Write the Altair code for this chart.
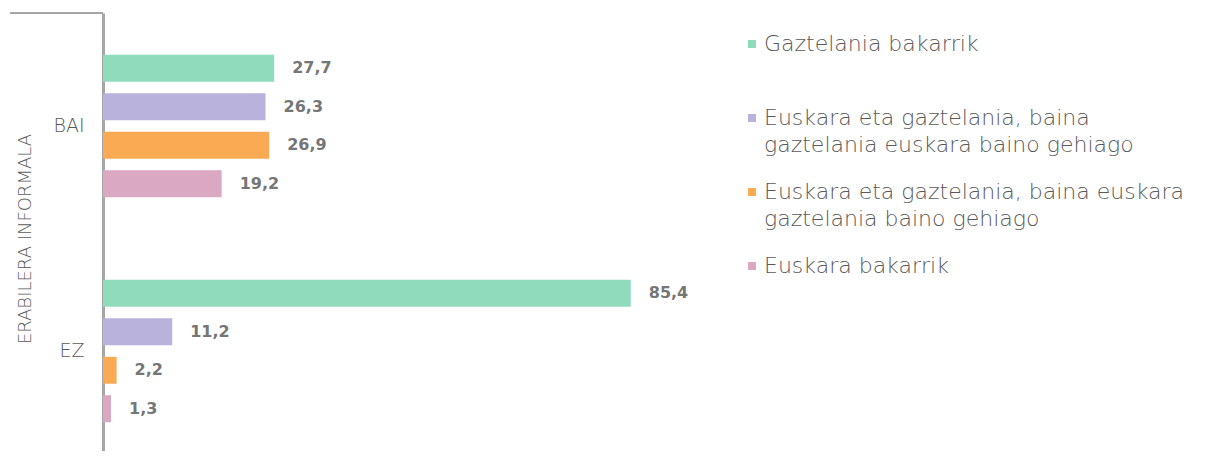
import altair as alt
import pandas as pd

categories = ["BAI", "EZ"]
series = [
    "Gaztelania bakarrik",
    "Euskara eta gaztelania, baina|gaztelania euskara baino gehiago",
    "Euskara eta gaztelania, baina euskara|gaztelania baino gehiago",
    "Euskara bakarrik",
]
bai_values = [27.7, 26.3, 26.9, 19.2]
ez_values = [85.4, 11.2, 2.2, 1.3]
colors = ["#91dbbd", "#b9b2dd", "#f9aa53", "#daa8c0"]

rows = []
for cat, vals in zip(categories, [bai_values, ez_values]):
    for s, v in zip(series, vals):
        rows.append({"cat": cat, "series": s, "value": v})
df = pd.DataFrame(rows)

FONT = "DejaVu Sans"
GREY = "#595959"

y = alt.Y(
    "cat:N",
    sort=categories,
    title="ERABILERA INFORMALA",
    scale=alt.Scale(range=[0, 451], paddingInner=0.316, paddingOuter=0.16),
    axis=alt.Axis(
        domainColor="#a6a6a6", domainWidth=3, ticks=False, labelPadding=19,
        labelFontSize=19, labelColor=GREY, labelFont=FONT, labelFontWeight=300,
        titleFont=FONT, titleFontSize=18, titleFontWeight=300,
        titleColor=GREY, titlePadding=18,
    ),
)
yoff = alt.YOffset("series:N", sort=series,
                   scale=alt.Scale(paddingInner=0.3, paddingOuter=0.15))
x = alt.X("value:Q", scale=alt.Scale(domain=[0, 100]), axis=None)

base = alt.Chart(df)

bars = base.mark_bar().encode(
    y=y, yOffset=yoff, x=x,
    color=alt.Color(
        "series:N", sort=series,
        scale=alt.Scale(domain=series, range=colors),
        legend=alt.Legend(
            orient="none", legendX=638, legendY=20, title=None,
            symbolType="square", symbolSize=64, symbolStrokeWidth=0,
            labelFont=FONT, labelFontSize=22, labelColor=GREY, labelFontWeight=300,
            labelExpr="indexof(datum.label, '|') >= 0 ? split(datum.label, '|') : [datum.label, '\u00a0']",
            labelLimit=600, gridAlign="all", rowPadding=25, labelOffset=1,
        ),
    ),
)

labels = base.transform_calculate(
    label="replace(format(datum.value, '.1f'), '.', ',')"
).mark_text(
    align="left", dx=18, fontWeight="bold", fontSize=16, color="#767676", font=FONT
).encode(y=y, yOffset=yoff, x=x, text="label:N")

corner = alt.Chart(pd.DataFrame({"a": [0]})).mark_rule(
    color="#a6a6a6", strokeWidth=2
).encode(x=alt.value(-93), x2=alt.value(0), y=alt.value(0))

chart = alt.layer(bars, labels, corner).properties(
    width=618, height=438,
    autosize=alt.AutoSizeParams(type="none"),
    padding={"left": 95, "top": 5, "right": 485, "bottom": 0},
).configure(
    style={"guide-label": {"lineHeight": 27}}
).configure_view(stroke=None)

chart.save("out.html", embed_options={"renderer": "svg", "actions": False})
